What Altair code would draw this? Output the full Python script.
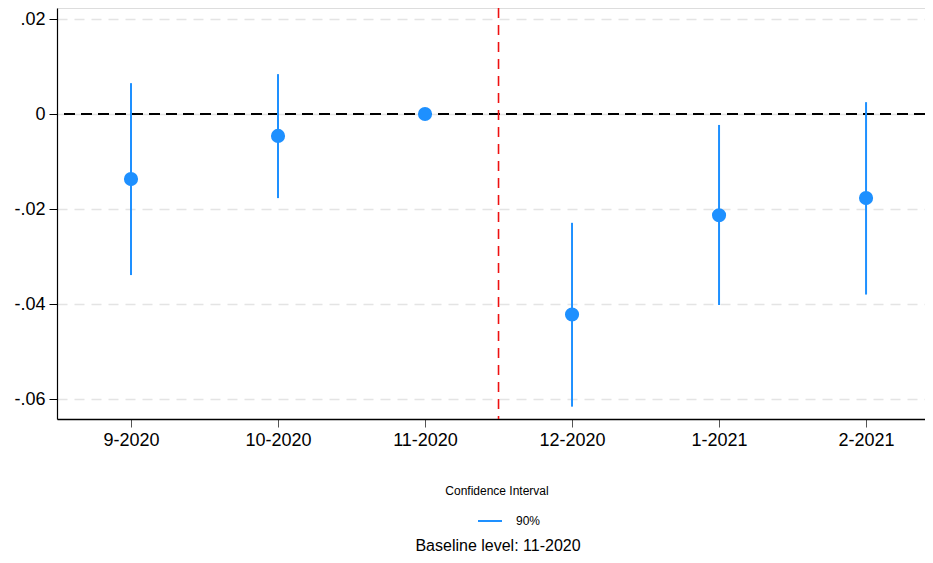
import altair as alt
import pandas as pd

months = ["9-2020", "10-2020", "11-2020", "12-2020", "1-2021", "2-2021"]
coef = [-0.0137, -0.0046, 0.0, -0.0422, -0.0213, -0.0177]
ci_lo = [-0.0339, -0.0177, None, -0.0616, -0.0402, -0.0380]
ci_hi = [0.0065, 0.0084, None, -0.0229, -0.0023, 0.0025]
ci_label = "90%"
y_ticks = [-0.06, -0.04, -0.02, 0.0, 0.02]
cutoff = 3.5
baseline_text = "Baseline level: 11-2020"
legend_title = "Confidence Interval"

BLUE = "#1E90FF"
FONT = "Liberation Sans"

df = pd.DataFrame({
    "idx": list(range(1, len(months) + 1)),
    "month": months,
    "coef": coef,
    "lo": ci_lo,
    "hi": ci_hi,
    "ci": [ci_label] * len(months),
})
ci_df = df.dropna(subset=["lo", "hi"])

label_array = "[" + ",".join("'" + m + "'" for m in months) + "]"

x_scale = alt.Scale(domain=[0.4966, 6.401], nice=False, zero=False)
y_scale = alt.Scale(domain=[-0.0642, 0.02232], nice=False, zero=False)

x_axis = alt.Axis(
    values=list(range(1, len(months) + 1)),
    labelExpr=label_array + "[datum.value-1]",
    title=None, grid=False, labelFont=FONT, labelFontSize=18, labelColor="black",
    domainColor="black", domainWidth=1.3, tickColor="#555555", tickSize=8,
    labelPadding=4,
)
y_axis = alt.Axis(
    values=y_ticks,
    labelExpr="datum.value == 0 ? '0' : (datum.value < 0 ? '-' : '') + replace(format(abs(datum.value), '.2f'), '0.', '.')",
    title=None, grid=True, gridColor="#e4e4e4", gridDash=[10, 7], gridWidth=1.3,
    labelFont=FONT, labelFontSize=18, labelColor="black",
    domainColor="black", domainWidth=1.2, tickColor="black", tickSize=8,
    labelPadding=4,
)

base = alt.Chart(df)

grid_layer = base.mark_point(opacity=0).encode(
    x=alt.X("idx:Q", scale=x_scale, axis=x_axis),
    y=alt.Y("coef:Q", scale=y_scale, axis=y_axis),
)

zero_line = alt.Chart(pd.DataFrame({"y": [0.0]})).mark_rule(
    color="black", strokeDash=[11, 6], strokeWidth=2
).encode(y=alt.Y("y:Q", scale=y_scale))

cut_line = alt.Chart(pd.DataFrame({"x": [cutoff]})).mark_rule(
    color="#ee1111", strokeDash=[10, 7], strokeWidth=1.6
).encode(x=alt.X("x:Q", scale=x_scale))

ci_layer = alt.Chart(ci_df).mark_rule(strokeWidth=2).encode(
    x=alt.X("idx:Q", scale=x_scale),
    y=alt.Y("lo:Q", scale=y_scale),
    y2="hi:Q",
    color=alt.Color(
        "ci:N",
        scale=alt.Scale(domain=[ci_label], range=[BLUE]),
        legend=alt.Legend(
            title=legend_title, orient="none", legendX=388, legendY=478,
            titleFont=FONT, titleFontSize=12, titleFontWeight="normal", titleColor="black",
            titleAnchor="middle", titlePadding=10,
            labelFont=FONT, labelFontSize=12, labelColor="black", labelOffset=13,
            symbolType="stroke", symbolSize=576, symbolStrokeWidth=2, symbolOffset=23,
            padding=0,
        ),
    ),
)

pts = base.mark_circle(size=200, color=BLUE, opacity=1).encode(
    x=alt.X("idx:Q", scale=x_scale),
    y=alt.Y("coef:Q", scale=y_scale),
)

chart = alt.layer(grid_layer, zero_line, cut_line, ci_layer, pts).properties(
    width=868, height=411,
    autosize=alt.AutoSizeParams(type="none"),
    padding={"left": 49, "top": 0, "right": 0, "bottom": 136},
    title=alt.TitleParams(
        text=baseline_text, orient="bottom", anchor="middle", font=FONT,
        fontSize=16, fontWeight="normal", color="black", offset=11, dx=7,
    ),
).configure_view(stroke=None).configure(background="white")

chart.save("out.html", embed_options={"renderer": "svg", "actions": False})
